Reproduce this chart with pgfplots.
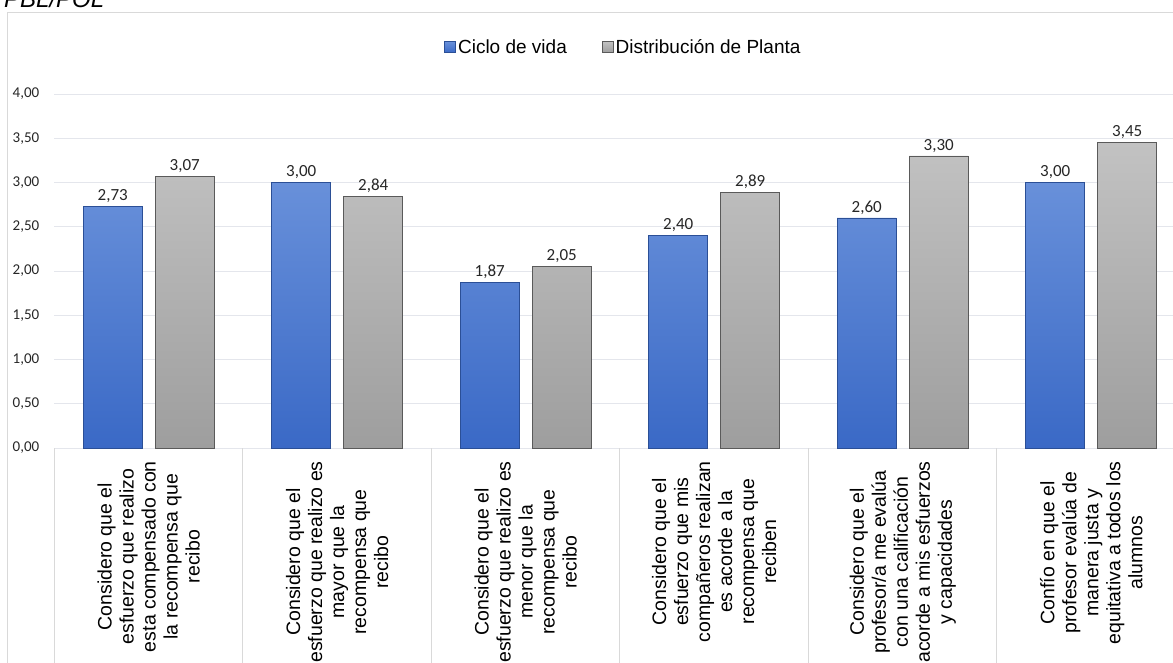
\documentclass[border=0pt]{standalone}
\usepackage{pgfplots}
\pgfplotsset{compat=1.18}
\usepackage{fontspec}
\setmainfont{Liberation Sans}
\newfontfamily\carlito{Carlito}

\definecolor{bluetop}{HTML}{6890DA}
\definecolor{bluebot}{HTML}{3A69C6}
\definecolor{blueedge}{HTML}{2B4F96}
\definecolor{graytop}{HTML}{C2C2C2}
\definecolor{graybot}{HTML}{9E9E9E}
\definecolor{grayedge}{HTML}{5A5A5A}
\definecolor{gridc}{HTML}{E4E6EC}
\definecolor{framec}{HTML}{D9D9D9}

\pgfplotsset{
  sqlegend/.style={legend image code/.code={
      \path[##1] (0pt,-5.5pt) rectangle (11pt,5.5pt);}},
}

\begin{document}
\begin{tikzpicture}[x=1pt,y=1pt]
\begin{axis}[
  at={(54.5pt,-448pt)}, anchor=south west,
  scale only axis, width=1131pt, height=354pt,
  ybar=13pt, bar width=59pt,
  xmin=-0.5, xmax=5.5, ymin=0, ymax=4,
  clip=false,
  axis line style={draw=none},
  ymajorgrids, major grid style={draw=gridc, line width=1pt},
  tick style={draw=framec, line width=1pt},
  major tick length=0pt,
  tick pos=left,
  ytick={0,0.5,...,4},
  yticklabel style={font=\carlito\fontsize{15}{18}\selectfont, text=black!85, inner sep=0pt, xshift=-15pt},
  xtick={0,...,5},
  xticklabels={
    {Considero que el\\esfuerzo que realizo\\esta compensado con\\la recompensa que\\recibo},
    {Considero que el\\esfuerzo que realizo es\\mayor que la\\recompensa que\\recibo},
    {Considero que el\\esfuerzo que realizo es\\menor que la\\recompensa que\\recibo},
    {Considero que el\\esfuerzo que mis\\compañeros realizan\\es acorde a la\\recompensa que\\reciben},
    {Considero que el\\profesor/a me evalúa\\con una calificación\\acorde a mis esfuerzos\\y capacidades},
    {Confío en que el\\profesor evalúa de\\manera justa y\\equitativa a todos los\\alumnos}},
  xticklabel style={rotate=90, anchor=east, align=center, inner ysep=0pt, inner xsep=13pt,
    font=\fontsize{19.5}{22}\selectfont, text=black},
  extra x ticks={-0.5,0.5,1.5,2.5,3.5,4.5,5.5},
  extra x tick labels={},
  extra x tick style={major tick length=240pt, tick align=outside},
  /pgf/number format/.cd, fixed, fixed zerofill, precision=2, use comma, assume math mode=true,
  /pgfplots/.cd,
  nodes near coords,
  every node near coord/.append style={font=\carlito\fontsize{17}{20}\selectfont, text=black!85},
  legend style={at={(0.503,1.133)}, anchor=center, draw=none, fill=none,
    font=\fontsize{19}{22}\selectfont, legend columns=2,
    /tikz/every even column/.append style={column sep=33pt},
    nodes={inner sep=2pt}},
]
\addplot[sqlegend, top color=bluetop, bottom color=bluebot, draw=blueedge, line width=0.8pt]
  coordinates {(0,2.73) (1,3.00) (2,1.87) (3,2.40) (4,2.60) (5,3.00)};
\addplot[sqlegend, top color=graytop, bottom color=graybot, draw=grayedge, line width=0.8pt]
  coordinates {(0,3.07) (1,2.84) (2,2.05) (3,2.89) (4,3.30) (5,3.45)};
\legend{Ciclo de vida, Distribución de Planta}
\end{axis}
% chart area border
\draw[framec, line width=1pt] (7.5,-670) -- (7.5,-12) -- (1180,-12);
\node[anchor=base west, font=\itshape\fontsize{24}{28}\selectfont, inner sep=0pt] at (4,-7) {PBL/POL};
\pgfresetboundingbox
\path[use as bounding box] (0,0) rectangle (1173,-662);
\end{tikzpicture}
\end{document}
